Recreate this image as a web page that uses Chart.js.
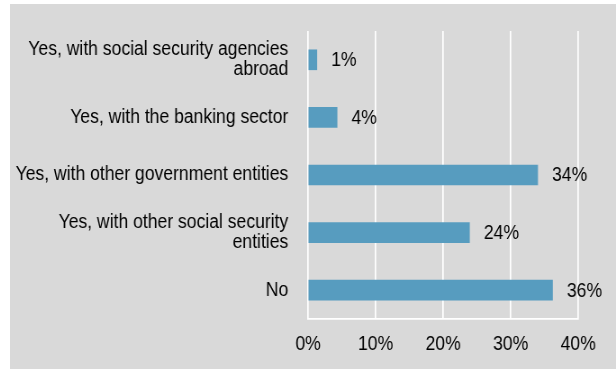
<!DOCTYPE html>
<html>
<head>
<meta charset="utf-8">
<script src="https://cdn.jsdelivr.net/npm/chart.js@4"></script>
<style>
  body { margin: 0; background: #fff; }
  #wrap { position: absolute; left: 10px; top: 4px; width: 606px; height: 365px; background: #d9d9d9; }
</style>
</head>
<body>
<!-- the canvas is drawn wider and squeezed back, which gives the narrow lettering -->
<div id="wrap"><canvas id="c" width="673" height="365" style="width:606px;height:365px"></canvas></div>
<script>
var categories = [
    ["Yes, with social security agencies", "abroad"],
    "Yes, with the banking sector",
    "Yes, with other government entities",
    ["Yes, with other social security", "entities"],
    "No"
  ],
  shares = [1.3, 4.3, 34.0, 23.9, 36.2],
  xTicks = [0, 10, 20, 30, 40];

var FONT = "'Liberation Sans', Arial, sans-serif";

// percentage text just past the end of each bar
var barLabels = {
  id: "barLabels",
  afterDatasetsDraw: function(chart){
    var ctx = chart.ctx,
        meta = chart.getDatasetMeta(0);
    ctx.save();
    ctx.font = "19.5px " + FONT;
    ctx.fillStyle = "#000";
    ctx.textBaseline = "middle";
    ctx.textAlign = "left";
    for (var i = 0; i < meta.data.length; i++) {
      var bar = meta.data[i];
      ctx.fillText(Math.round(shares[i]) + "%", bar.x + 16, bar.y + 1);
    }
    ctx.restore();
  }
};

new Chart(document.getElementById("c"), {
  type: "bar",
  data: {
    labels: categories,
    datasets: [{
      data: shares,
      backgroundColor: "#579cbf",
      borderWidth: 0,
      barThickness: 20
    }]
  },
  options: {
    indexAxis: "y",
    responsive: false,
    animation: false,
    layout: { padding: { top: 27, right: 42, left: 0, bottom: 0 } },
    plugins: { legend: { display: false }, tooltip: { enabled: false } },
    scales: {
      x: {
        min: 0,
        max: 40,
        afterBuildTicks: function(scale){
          scale.ticks = xTicks.map(function(v){ return { value: v }; });
        },
        afterFit: function(scale){
          scale.height = 50;
          scale.paddingLeft = 0;
          scale.paddingRight = 0;
        },
        grid: { color: "#fff", lineWidth: 1.7, drawTicks: false },
        border: { color: "#fff", width: 1.7 },
        ticks: {
          padding: 14,
          color: "#000",
          font: { family: FONT, size: 19.5 },
          callback: function(v){ return v + "%"; }
        }
      },
      y: {
        afterFit: function(scale){
          scale.width = 331;
          scale.paddingTop = 0;
          scale.paddingBottom = 0;
        },
        grid: { display: false, drawTicks: false },
        border: { display: false },
        ticks: {
          padding: 22,
          color: "#000",
          font: { family: FONT, size: 19.5, lineHeight: 1.03 }
        }
      }
    }
  },
  plugins: [barLabels]
});
</script>
</body>
</html>
